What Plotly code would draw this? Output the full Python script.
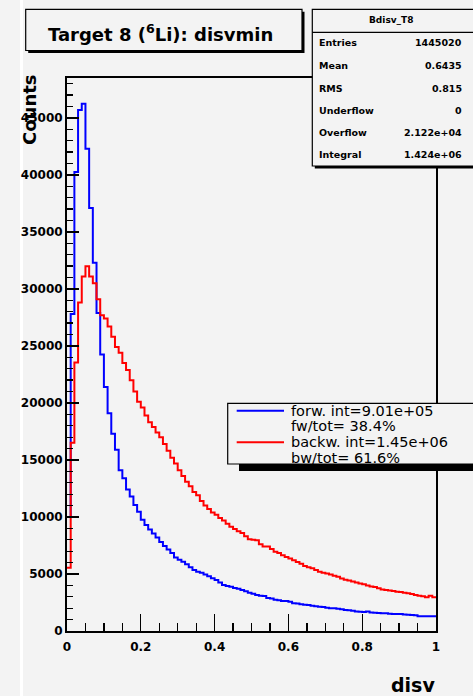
import numpy as np
import plotly.graph_objects as go

# ---- data (bin contents, 100 bins of width 0.01 on [0,1]) ----
bin_low, bin_high, n_bins = 0.0, 1.0, 100
forward_counts = [
    10000, 27800, 40250, 45700, 46250, 42300, 37100, 32300, 27900, 24250,
    21400, 19100, 17300, 15900, 14100, 13400, 12400, 11800, 11050, 10450,
    9750, 9300, 8900, 8550, 8200, 7800, 7450, 7150, 6850, 6450,
    6250, 6070, 5850, 5600, 5350, 5200, 5100, 4950, 4800, 4620,
    4470, 4250, 4030, 3950, 3880, 3780, 3700, 3600, 3480, 3360,
    3260, 3160, 3100, 3080, 2900, 2850, 2750, 2700, 2630, 2640,
    2560, 2430, 2420, 2350, 2300, 2270, 2220, 2170, 2130, 2100,
    2050, 2000, 1990, 1960, 1900, 1850, 1830, 1780, 1720, 1690,
    1660, 1700, 1620, 1600, 1580, 1560, 1550, 1520, 1500, 1480,
    1500, 1450, 1420, 1400, 1380, 1300, 1300, 1300, 1300, 1300,
]
backward_counts = [
    5550, 16500, 23550, 28800, 31100, 32000, 31100, 30500, 29100, 27700,
    27400, 26700, 25800, 24900, 24400, 23500, 22900, 22000, 21000, 20100,
    19600, 18900, 18300, 17900, 17400, 17000, 16400, 15800, 15200, 14700,
    14100, 13600, 13100, 12700, 12200, 11900, 11400, 11000, 10700, 10400,
    10200, 9900, 9700, 9400, 9150, 8950, 8750, 8600, 8300, 8050,
    8000, 7950, 7600, 7400, 7400, 7200, 6950, 6850, 6650, 6500,
    6350, 6200, 6050, 5900, 5700, 5600, 5500, 5350, 5200, 5100,
    5050, 4950, 4850, 4750, 4600, 4500, 4420, 4350, 4250, 4170,
    4100, 4000, 3900, 3850, 3750, 3650, 3600, 3550, 3500, 3450,
    3430, 3350, 3300, 3250, 3150, 3100, 3050, 2950, 3100, 2950,
]
x_tick_vals = [0, 0.2, 0.4, 0.6, 0.8, 1.0]
x_tick_text = ["0", "0.2", "0.4", "0.6", "0.8", "1"]
y_tick_vals = [0, 5000, 10000, 15000, 20000, 25000, 30000, 35000, 40000, 45000]

title_text = "Target 8 (<sup>6</sup>Li): disvmin"
stats_name = "Bdisv_T8"
stats_labels = ["Entries", "Mean", "RMS", "Underflow", "Overflow", "Integral"]
stats_values = ["1445020", "0.6435", "0.815", "0", "2.122e+04", "1.424e+06"]
legend_lines = ["forw. int=9.01e+05", "fw/tot= 38.4%", "backw. int=1.45e+06", "bw/tot= 61.6%"]

# ---- layout geometry ----
W, H = 473, 696
L, R, T, B = 67, 37, 78, 65
PW, PH = W - L - R, H - T - B
BG = "#f3f3f3"


def px(x):
    return (x - L) / PW


def py(y):
    return (H - B - y) / PH


edges = np.linspace(bin_low, bin_high, n_bins + 1)

fig = go.Figure()
fig.add_trace(go.Scatter(x=edges, y=list(forward_counts) + [forward_counts[-1]],
                         mode="lines", line=dict(color="#0000ff", width=2, shape="hv"),
                         showlegend=False, hoverinfo="skip"))
fig.add_trace(go.Scatter(x=edges, y=list(backward_counts) + [backward_counts[-1]],
                         mode="lines", line=dict(color="#ff0000", width=2, shape="hv"),
                         showlegend=False, hoverinfo="skip"))

shapes = []
annotations = []

# white stripe at left
shapes.append(dict(type="rect", xref="paper", yref="paper", x0=px(20), x1=px(23), y0=py(0), y1=py(H),
                   fillcolor="white", line=dict(width=0), layer="below"))


def box(x0, y0, x1, y1, sdx, sdy, shadow_x0=None):
    sx0 = x0 + sdx if shadow_x0 is None else shadow_x0
    shapes.append(dict(type="rect", xref="paper", yref="paper", x0=px(sx0), x1=px(x1 + sdx),
                       y0=py(y0 + sdy), y1=py(y1 + sdy), fillcolor="black", line=dict(width=0), layer="above"))
    shapes.append(dict(type="rect", xref="paper", yref="paper", x0=px(x0), x1=px(x1),
                       y0=py(y0), y1=py(y1), fillcolor=BG, line=dict(color="black", width=1.2), layer="above"))


# title box
box(25.7, 9.3, 302, 50.5, 2.5, 2.5)
annotations.append(dict(x=px(160), y=py(33), xref="paper", yref="paper", text=title_text, showarrow=False,
                        xanchor="center", yanchor="middle",
                        font=dict(family="DejaVu Sans", size=18, color="black", weight="bold")))

# stats box
box(312.3, 9.3, 490, 166, 2.5, 2.5)
shapes.append(dict(type="line", xref="paper", yref="paper", x0=px(312.3), x1=px(490), y0=py(32.3), y1=py(32.3),
                   line=dict(color="black", width=1.2), layer="above"))
annotations.append(dict(x=px(391), y=py(20.5), xref="paper", yref="paper", text=stats_name, showarrow=False,
                        xanchor="center", yanchor="middle",
                        font=dict(family="DejaVu Sans", size=9, color="black", weight="bold")))
row_y = [42.7, 65.7, 88.3, 110.5, 132.7, 154.5]
for lab, val, yy in zip(stats_labels, stats_values, row_y):
    annotations.append(dict(x=px(316.5), y=py(yy), xref="paper", yref="paper", text=lab, showarrow=False,
                            xanchor="left", yanchor="middle",
                            font=dict(family="DejaVu Sans", size=9.5, color="black", weight="bold")))
    annotations.append(dict(x=px(464), y=py(yy), xref="paper", yref="paper", text=val, showarrow=False,
                            xanchor="right", yanchor="middle",
                            font=dict(family="DejaVu Sans", size=9.5, color="black", weight="bold")))

# legend box
box(227.7, 403.3, 490, 464, 0, 7, shadow_x0=239)
shapes.append(dict(type="line", xref="paper", yref="paper", x0=px(236.7), x1=px(284), y0=py(410.7), y1=py(410.7),
                   line=dict(color="#0000ff", width=2), layer="above"))
shapes.append(dict(type="line", xref="paper", yref="paper", x0=px(236.7), x1=px(284), y0=py(442.3), y1=py(442.3),
                   line=dict(color="#ff0000", width=2), layer="above"))
for txt, yy in zip(legend_lines, [410.5, 425.5, 441.5, 457.5]):
    annotations.append(dict(x=px(289), y=py(yy), xref="paper", yref="paper", text=txt, showarrow=False,
                            xanchor="left", yanchor="middle",
                            font=dict(family="DejaVu Sans", size=14.5, color="black")))

# axis titles
annotations.append(dict(x=px(29), y=py(110), xref="paper", yref="paper", text="Counts", showarrow=False,
                        textangle=-90, xanchor="center", yanchor="middle",
                        font=dict(family="DejaVu Sans", size=18, color="black", weight="bold")))
annotations.append(dict(x=px(437), y=py(685), xref="paper", yref="paper", text="disv", showarrow=False,
                        xanchor="right", yanchor="middle",
                        font=dict(family="DejaVu Sans", size=19, color="black", weight="bold")))

tickfont = dict(family="DejaVu Sans", size=12, color="black", weight="bold")
fig.update_layout(
    width=W, height=H,
    margin=dict(l=L, r=R, t=T, b=B, autoexpand=False),
    paper_bgcolor=BG, plot_bgcolor=BG,
    showlegend=False,
    shapes=shapes, annotations=annotations,
    xaxis=dict(range=[bin_low, bin_high], tickvals=x_tick_vals, ticktext=x_tick_text,
               ticks="inside", ticklen=17, tickwidth=1.3, tickcolor="black",
               minor=dict(dtick=0.05, tick0=0, ticks="inside", ticklen=8, tickwidth=1.3, tickcolor="black"),
               showline=True, linecolor="black", linewidth=2, mirror=True,
               showgrid=False, zeroline=False, tickfont=tickfont, ticklabelstandoff=4),
    yaxis=dict(range=[0, 48500], tickvals=y_tick_vals, tickformat="d",
               ticks="inside", ticklen=12, tickwidth=1.3, tickcolor="black",
               minor=dict(dtick=1000, tick0=0, ticks="inside", ticklen=6, tickwidth=1.3, tickcolor="black"),
               showline=True, linecolor="black", linewidth=2, mirror=True,
               showgrid=False, zeroline=False, tickfont=tickfont),
)

page_fix = ("document.body.style.margin='0';document.body.style.padding='0';"
            "document.body.style.overflow='hidden';document.body.style.background='" + BG + "';")
fig.write_html("out.html", post_script=page_fix, config={"displayModeBar": False, "staticPlot": True})
